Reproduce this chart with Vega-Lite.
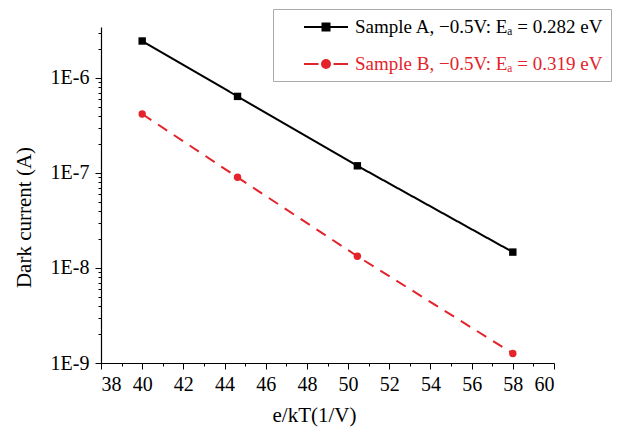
{
  "$schema": "https://vega.github.io/schema/vega-lite/v6.json",
  "width": 453,
  "height": 336,
  "autosize": "none",
  "padding": {"left": 101, "top": 27, "right": 64, "bottom": 67},
  "background": "white",
  "config": {"view": {"stroke": null}, "font": "Liberation Serif, Times New Roman, Times, serif"},
  "data": {
    "values": [
      {"series": "Sample A, −0.5V: Eₐ = 0.282 eV", "ekt": 40.0, "current": 2.45e-6},
      {"series": "Sample A, −0.5V: Eₐ = 0.282 eV", "ekt": 44.63, "current": 6.4e-7},
      {"series": "Sample A, −0.5V: Eₐ = 0.282 eV", "ekt": 50.45, "current": 1.19e-7},
      {"series": "Sample A, −0.5V: Eₐ = 0.282 eV", "ekt": 58.0, "current": 1.47e-8},
      {"series": "Sample B, −0.5V: Eₐ = 0.319 eV", "ekt": 40.0, "current": 4.18e-7},
      {"series": "Sample B, −0.5V: Eₐ = 0.319 eV", "ekt": 44.63, "current": 9.0e-8},
      {"series": "Sample B, −0.5V: Eₐ = 0.319 eV", "ekt": 50.45, "current": 1.33e-8},
      {"series": "Sample B, −0.5V: Eₐ = 0.319 eV", "ekt": 58.0, "current": 1.26e-9}
    ]
  },
  "encoding": {
    "x": {
      "field": "ekt",
      "type": "quantitative",
      "scale": {"domain": [38, 60], "nice": false, "zero": false},
      "axis": {
        "values": [38,39,40,41,42,43,44,45,46,47,48,49,50,51,52,53,54,55,56,57,58,59,60],
        "labelExpr": "datum.value % 2 == 0 ? datum.label : ''",
        "tickSize": {"condition": {"test": "datum.value % 2 == 0", "value": 6}, "value": 3},
        "grid": false,
        "domainColor": "#000000",
        "domainWidth": 1.2,
        "tickColor": "#000000",
        "labelColor": "#000000",
        "labelFont": "Liberation Serif, Times New Roman, Times, serif",
        "labelFontSize": 20,
        "labelPadding": 5,
        "title": "e/kT(1/V)",
        "titleFont": "Liberation Serif, Times New Roman, Times, serif",
        "titleFontSize": 21,
        "titleFontWeight": "normal",
        "titleColor": "#000000",
        "titleX": 213,
        "titleY": 58,
        "titleBaseline": "alphabetic"
      }
    },
    "y": {
      "field": "current",
      "type": "quantitative",
      "scale": {"type": "log", "domain": [1e-9, 3.44e-6], "nice": false},
      "axis": {
        "values": [1e-9,2e-9,3e-9,4e-9,5e-9,6e-9,7e-9,8e-9,9e-9,1e-8,2e-8,3e-8,4e-8,5e-8,6e-8,7e-8,8e-8,9e-8,1e-7,2e-7,3e-7,4e-7,5e-7,6e-7,7e-7,8e-7,9e-7,1e-6,2e-6,3e-6],
        "labelExpr": "abs(log(datum.value)/LN10 - round(log(datum.value)/LN10)) < 0.01 ? '1E' + round(log(datum.value)/LN10) : ''",
        "tickSize": {"condition": {"test": "abs(log(datum.value)/LN10 - round(log(datum.value)/LN10)) < 0.01", "value": 6}, "value": 3},
        "grid": false,
        "domainColor": "#000000",
        "domainWidth": 1.2,
        "tickColor": "#000000",
        "labelColor": "#000000",
        "labelFont": "Liberation Serif, Times New Roman, Times, serif",
        "labelFontSize": 20,
        "labelPadding": 6,
        "title": "Dark current (A)",
        "titleFont": "Liberation Serif, Times New Roman, Times, serif",
        "titleFontSize": 21,
        "titleFontWeight": "normal",
        "titleColor": "#000000",
        "titleAngle": 270,
        "titleX": -77,
        "titleY": 190,
        "titleAlign": "center",
        "titleBaseline": "middle"
      }
    },
    "color": {
      "field": "series",
      "type": "nominal",
      "scale": {"range": ["#000000", "#e4232b"]},
      "legend": {
        "orient": "none",
        "legendX": 172,
        "legendY": -18,
        "title": null,
        "padding": 7,
        "strokeColor": "#aaaaaa",
        "fillColor": "#ffffff",
        "labelFont": "Liberation Serif, Times New Roman, Times, serif",
        "labelFontSize": 19,
        "labelLimit": 0,
        "labelOffset": 18,
        "symbolSize": 400,
        "symbolOffset": 35,
        "symbolStrokeWidth": 2,
        "rowPadding": 16,
        "encode": {
          "symbols": {
            "update": {
              "shape": {"signal": "indexof(datum.value, 'Sample B') === 0 ? 'M-2.2,0H-0.75M0.75,0H2.2M0.4,0A0.4,0.4 0 1,1 -0.4,0A0.4,0.4 0 1,1 0.4,0Z' : 'M-2.2,0H2.2M-0.35,-0.35H0.35V0.35H-0.35Z'"},
              "fill": {"signal": "indexof(datum.value, 'Sample B') === 0 ? '#e4232b' : '#000000'"},
              "stroke": {"signal": "indexof(datum.value, 'Sample B') === 0 ? '#e4232b' : '#000000'"},
              "opacity": {"value": 1},
              "fillOpacity": {"value": 1}
            }
          },
          "labels": {
            "update": {
              "fill": {"signal": "indexof(datum.value, 'Sample B') === 0 ? '#e4232b' : '#000000'"}
            }
          }
        }
      }
    }
  },
  "layer": [
    {
      "mark": {"type": "line", "strokeWidth": 2},
      "encoding": {
        "strokeDash": {
          "field": "series",
          "type": "nominal",
          "scale": {"range": [[1, 0], [11, 8]]},
          "legend": null
        }
      }
    },
    {
      "mark": {"type": "point", "filled": true, "opacity": 1, "size": 55},
      "encoding": {
        "shape": {
          "field": "series",
          "type": "nominal",
          "scale": {"range": ["square", "circle"]},
          "legend": null
        }
      }
    }
  ]
}
